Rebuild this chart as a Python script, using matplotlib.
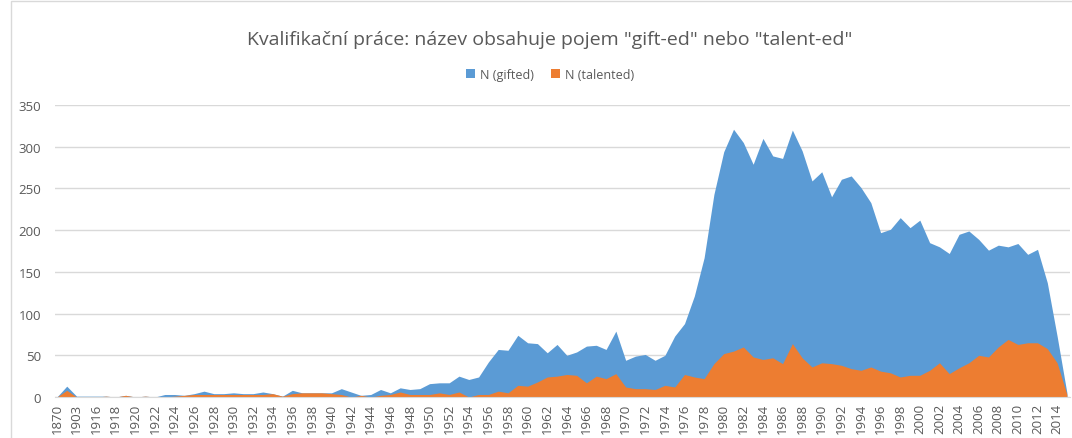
import matplotlib.pyplot as plt
from matplotlib.patches import Rectangle

plt.rcParams['font.family'] = ['Open Sans', 'DejaVu Sans']

# categories (first four are irregular, then yearly)
years = [1870, 1901, 1903, 1910] + list(range(1916, 2016))

gifted = [0, 13, 1, 1, 1, 1, 0, 2, 0, 1,
          0, 3, 3, 2, 4, 7, 4, 4, 5, 4,
          4, 6, 4, 1, 8, 5, 5, 5, 5, 10,
          6, 2, 3, 9, 5, 11, 9, 10, 16, 17,
          17, 25, 21, 24, 42, 57, 56, 74, 65, 64,
          53, 63, 50, 54, 61, 62, 57, 79, 44, 49,
          51, 44, 50, 73, 88, 121, 167, 243, 294, 321,
          305, 279, 310, 289, 286, 320, 295, 259, 270, 240,
          261, 265, 251, 233, 197, 201, 215, 203, 212, 185,
          180, 172, 195, 199, 189, 176, 182, 180, 184, 171,
          177, 137, 73, 5]

talented = [0, 8, 0, 0, 0, 1, 0, 2, 0, 1,
            0, 0, 1, 2, 3, 3, 3, 3, 3, 3,
            3, 3, 4, 1, 4, 5, 5, 5, 4, 3,
            0, 2, 0, 2, 3, 6, 3, 3, 3, 5,
            3, 6, 0, 3, 3, 7, 5, 14, 13, 18,
            24, 25, 27, 26, 17, 25, 22, 28, 12, 10,
            10, 9, 14, 12, 27, 24, 22, 40, 52, 55,
            60, 48, 45, 47, 40, 64, 47, 36, 41, 40,
            38, 34, 32, 36, 31, 29, 24, 26, 26, 32,
            41, 28, 35, 41, 50, 48, 60, 69, 63, 65,
            65, 58, 41, 3]

yticks = [0, 50, 100, 150, 200, 250, 300, 350]

blue = '#5B9BD5'
orange = '#ED7D31'
text_col = '#595959'
grid_col = '#D9D9D9'

fig = plt.figure(figsize=(10.72, 4.39), dpi=100)
ax = fig.add_axes([0.0513, 0.0934, 0.9467, 0.6651])

x = list(range(len(years)))
ax.fill_between(x, 0, gifted, color=blue, linewidth=0, label='N (gifted)')
ax.fill_between(x, 0, talented, color=orange, linewidth=0, label='N (talented)')

ax.set_xlim(-0.2, 103.3)
ax.set_ylim(0, 350)
ax.set_yticks(yticks)
ax.yaxis.grid(True, color=grid_col, linewidth=1)
ax.set_axisbelow(True)

ax.set_xticks(x[::2])
ax.set_xticklabels([str(y) for y in years[::2]], rotation=90)
ax.tick_params(axis='x', length=0, pad=4, labelsize=9.5, colors=text_col)
ax.tick_params(axis='y', length=0, pad=10, labelsize=9.5, colors=text_col)

for s in ['top', 'right', 'left']:
    ax.spines[s].set_visible(False)
ax.spines['bottom'].set_color(grid_col)
ax.spines['bottom'].set_zorder(3)

fig.text(0.513, 0.909, 'Kvalifikační práce: název obsahuje pojem "gift-ed" nebo "talent-ed"',
         ha='center', va='center', fontsize=14, color=text_col)

fig.legend(loc='center', bbox_to_anchor=(0.513, 0.829), ncol=2, frameon=False,
           fontsize=9, handlelength=0.7, handleheight=0.7, handletextpad=0.4,
           columnspacing=1.4, labelcolor=text_col)

fig.patches.append(Rectangle((11 / 1072, -0.1), 1.2, 1.095, transform=fig.transFigure,
                             fill=False, edgecolor=grid_col, linewidth=1))

fig.savefig('out.png', dpi=100)
